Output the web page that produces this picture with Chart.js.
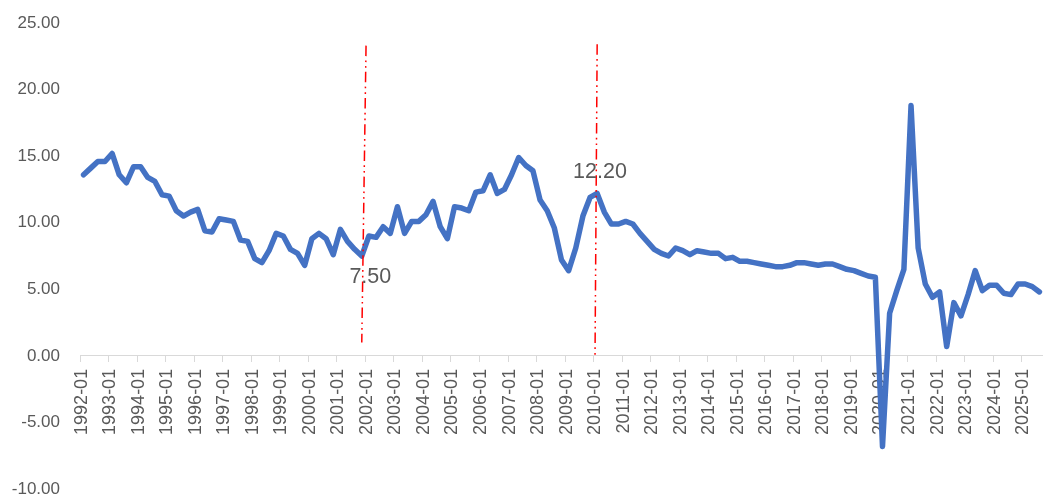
<!DOCTYPE html>
<html lang="zh">
<head>
    <meta charset="UTF-8">
    <title>GDP 同比</title>
    <script src="https://cdn.jsdelivr.net/npm/chart.js@4.4.0/dist/chart.umd.min.js"></script>
    <style>
        html, body { margin: 0; padding: 0; background: #fff; overflow: hidden; }
        .chart-box { width: 1043px; height: 497px; position: relative; }
    </style>
</head>
<body>
    <div class="chart-box">
        <canvas id="gdpChart"></canvas>
    </div>

    <script>
        // quarters 1992-01 .. 2025-07
        const years = [];
        for (let y = 1992; y <= 2025; y++) years.push(y);
        const months = ['01', '04', '07', '10'];
        const quarterLabels = [];
        years.forEach(y => months.forEach(m => quarterLabels.push(y + '-' + m)));
        quarterLabels.length = 135;

        const growth = [
            13.6, 14.1, 14.6, 14.6, 15.2, 13.6, 13.0, 14.2, 14.2, 13.4,
            13.1, 12.1, 12.0, 10.9, 10.5, 10.8, 11.0, 9.4, 9.3, 10.3,
            10.2, 10.1, 8.7, 8.6, 7.3, 7.0, 7.9, 9.2, 9.0, 8.0,
            7.7, 6.8, 8.8, 9.2, 8.8, 7.6, 9.5, 8.6, 8.0, 7.5,
            9.0, 8.9, 9.7, 9.2, 11.2, 9.2, 10.1, 10.1, 10.6, 11.6,
            9.7, 8.8, 11.2, 11.1, 10.9, 12.3, 12.4, 13.6, 12.2, 12.5,
            13.6, 14.9, 14.3, 13.9, 11.7, 10.9, 9.6, 7.2, 6.4, 8.1,
            10.5, 11.9, 12.2, 10.8, 9.9, 9.9, 10.1, 9.9, 9.2, 8.6,
            8.0, 7.7, 7.5, 8.1, 7.9, 7.6, 7.9, 7.8, 7.7, 7.7,
            7.3, 7.4, 7.1, 7.1, 7.0, 6.9, 6.8, 6.7, 6.7, 6.8,
            7.0, 7.0, 6.9, 6.8, 6.9, 6.9, 6.7, 6.5, 6.4, 6.2,
            6.0, 5.9, -6.8, 3.2, 4.9, 6.5, 18.8, 8.1, 5.4, 4.4,
            4.8, 0.7, 4.0, 3.0, 4.6, 6.4, 4.9, 5.3, 5.3, 4.7,
            4.6, 5.4, 5.4, 5.2, 4.8
        ];

        const yTicks = [-10, -5, 0, 5, 10, 15, 20, 25];

        // hand drawn markers: [index, value] pairs (top, bottom)
        const markerLines = [
            [[39.6, 23.3], [39.0, 1.0]],
            [[72.0, 23.4], [71.7, 0.0]]
        ];
        const markerTexts = [
            { text: '7.50', at: [40.2, 5.9] },
            { text: '12.20', at: [72.4, 13.8] }
        ];

        const markerPlugin = {
            id: 'markers',
            afterDatasetsDraw(chart) {
                const ctx = chart.ctx;
                const xs = chart.scales.x, ys = chart.scales.y;
                ctx.save();
                ctx.strokeStyle = '#ff0000';
                ctx.lineWidth = 1.5;
                ctx.setLineDash([10.5, 4.3, 1.7, 4, 1.7, 4]);
                markerLines.forEach(([a, b]) => {
                    ctx.beginPath();
                    ctx.moveTo(xs.getPixelForValue(a[0]), ys.getPixelForValue(a[1]));
                    ctx.lineTo(xs.getPixelForValue(b[0]), ys.getPixelForValue(b[1]));
                    ctx.stroke();
                });
                ctx.setLineDash([]);
                ctx.fillStyle = '#595959';
                ctx.font = '21.5px "Liberation Sans", Arial, sans-serif';
                ctx.textAlign = 'center';
                ctx.textBaseline = 'middle';
                markerTexts.forEach(m => {
                    ctx.fillText(m.text, xs.getPixelForValue(m.at[0]), ys.getPixelForValue(m.at[1]));
                });
                ctx.restore();
            }
        };

        const noPad = s => {
            s.paddingLeft = 0; s.paddingRight = 0;
            s.paddingTop = 0; s.paddingBottom = 0;
        };

        const ctx = document.getElementById('gdpChart').getContext('2d');
        new Chart(ctx, {
            type: 'line',
            data: {
                labels: quarterLabels,
                datasets: [{
                    data: growth,
                    borderColor: '#4472c4',
                    borderWidth: 5.5,
                    pointRadius: 0,
                    tension: 0,
                    borderJoinStyle: 'round',
                    borderCapStyle: 'round',
                    fill: false
                }]
            },
            options: {
                responsive: true,
                maintainAspectRatio: false,
                animation: false,
                layout: { padding: { top: 23, bottom: 8, left: 0, right: 0 } },
                plugins: {
                    legend: { display: false },
                    tooltip: { enabled: false }
                },
                scales: {
                    x: {
                        type: 'category',
                        position: { y: 0 },
                        offset: true,
                        afterFit: s => { s.height = 0; noPad(s); },
                        grid: {
                            display: true,
                            drawOnChartArea: false,
                            drawTicks: true,
                            tickLength: 6,
                            offset: true,
                            color: c => (c.index % 4 === 0 ? '#d9d9d9' : 'rgba(0,0,0,0)')
                        },
                        border: { display: true, color: '#d9d9d9', width: 1 },
                        ticks: {
                            autoSkip: false,
                            minRotation: 90,
                            maxRotation: 90,
                            padding: 7,
                            labelOffset: -2,
                            color: '#595959',
                            font: { family: '"Liberation Sans", Arial, sans-serif', size: 18 },
                            callback: (v, i) => (i % 4 === 0 ? quarterLabels[i] : '')
                        }
                    },
                    y: {
                        min: yTicks[0],
                        max: yTicks[yTicks.length - 1],
                        afterBuildTicks: s => { s.ticks = yTicks.map(v => ({ value: v })); },
                        afterFit: s => { s.width = 80; noPad(s); },
                        grid: { display: false, drawTicks: false },
                        border: { display: false },
                        ticks: {
                            padding: 20,
                            color: '#595959',
                            font: { family: '"Liberation Sans", Arial, sans-serif', size: 17 },
                            callback: v => v.toFixed(2)
                        }
                    }
                }
            },
            plugins: [markerPlugin]
        });
    </script>
</body>
</html>
